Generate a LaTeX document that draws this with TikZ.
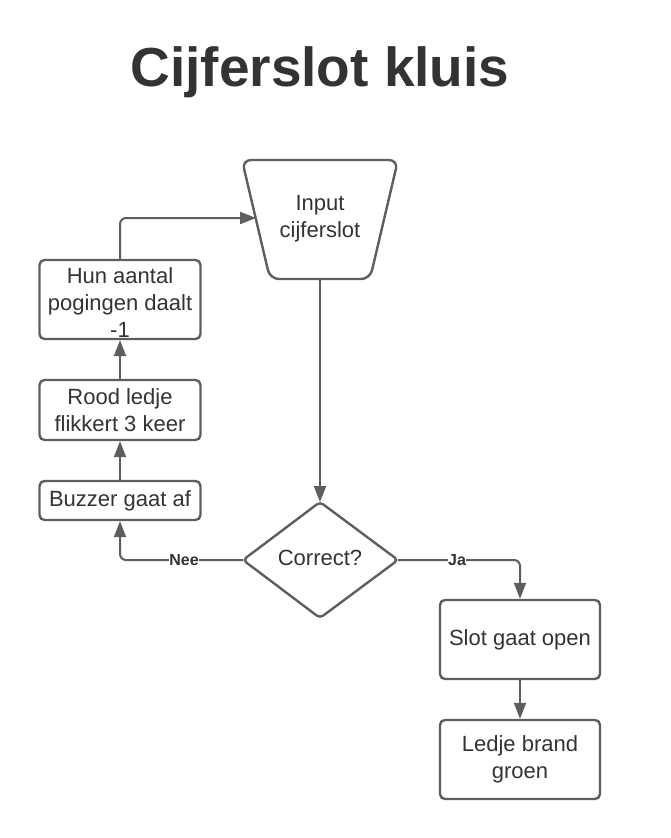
\documentclass[tikz,border=0pt]{standalone}
\usepackage{fontspec}
\setmainfont{Liberation Sans}
\usetikzlibrary{arrows.meta,shapes.geometric}
\definecolor{ln}{HTML}{5E5E5E}
\definecolor{tx}{HTML}{333333}
\begin{document}
\begin{tikzpicture}[x=1pt,y=-1pt,
  box/.style={draw=ln,line width=2.4pt,rounded corners=5pt,text=tx,align=center,font=\fontsize{22}{27}\selectfont,inner sep=0pt},
  btxt/.style={text=tx,align=center,font=\fontsize{22}{27}\selectfont,inner sep=0pt},
  conn/.style={draw=ln,line width=2pt,rounded corners=6pt},
  arr/.style={conn,-{Triangle[length=16pt,width=12pt]}},
  lbl/.style={fill=white,text=tx,font=\bfseries\fontsize{16}{18}\selectfont,inner sep=0.5pt}]
\useasboundingbox (0,0) rectangle (671,838);
\node[text=tx,font=\bfseries\fontsize{55}{60}\selectfont] (title) at (320,72) {Cijferslot kluis};
% trapezoid
\draw[draw=ln,line width=2.4pt,rounded corners=9pt] (242,160) -- (398,160) -- (370,279) -- (270,279) -- cycle;
\node[text=tx,align=center,font=\fontsize{22}{27}\selectfont] (inp) at (320,219) {Input\\cijferslot};
\coordinate (inpL) at (256,218);
\coordinate (inpB) at (320,279);
% boxes
\node[box,minimum width=161pt,minimum height=79pt] (hun) at (120,299.5) {};
\node[btxt] (hunt) at (120,303) {Hun aantal\\pogingen daalt\\-1};
\node[box,minimum width=161pt,minimum height=60pt] (rood) at (120,410) {Rood ledje\\flikkert 3 keer};
\node[box,minimum width=161pt,minimum height=39pt] (buz) at (120,500.5) {Buzzer gaat af};
\node[box,minimum width=160pt,minimum height=79pt] (slot) at (520,639.5) {Slot gaat open};
\node[box,minimum width=160pt,minimum height=79pt] (led) at (520,759.5) {Ledje brand\\groen};
% diamond
\draw[draw=ln,line width=2.4pt,rounded corners=4pt] (320,502) -- (398,560) -- (320,618) -- (243,560) -- cycle;
\node[text=tx,font=\fontsize{22}{27}\selectfont] (cor) at (320,558) {Correct?};
\coordinate (corT) at (320,502);
\coordinate (corL) at (243,560);
\coordinate (corR) at (398,560);
% connectors
\draw[arr] (inpB) -- (corT);
\draw[arr] (corL) -- (120,560) -- (buz.south);
\node[lbl] (nee) at (184,560) {Nee};
\draw[arr] (corR) -- (520,560) -- (slot.north);
\node[lbl] (ja) at (457,560) {Ja};
\draw[arr] (buz.north) -- (rood.south);
\draw[arr] (rood.north) -- (hun.south);
\draw[arr] (hun.north) -- (120,218) -- (inpL);
\draw[arr] (slot.south) -- (led.north);
\end{tikzpicture}
\end{document}
